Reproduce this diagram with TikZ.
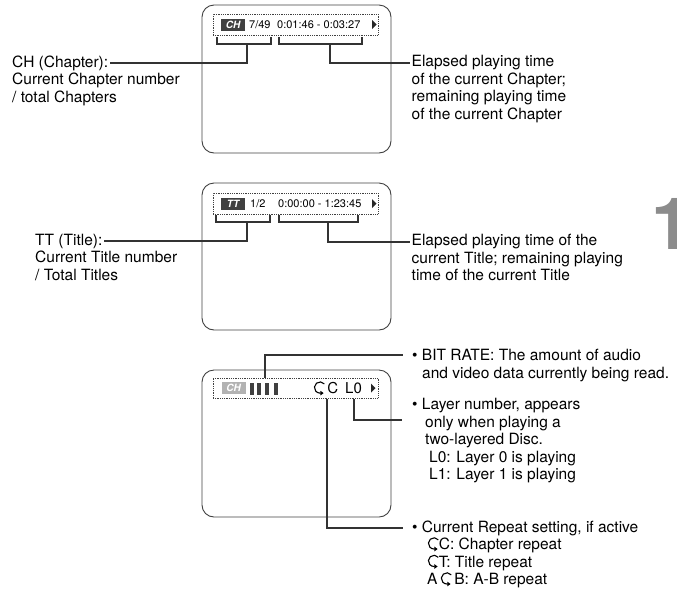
\documentclass[tikz,border=0pt]{standalone}
\usepackage{fontspec}
\setmainfont{TeX Gyre Heros}
\usetikzlibrary{arrows.meta,positioning}

% small repeat arrow used in the bar and in the labels
\newcommand{\rpt}{\tikz[baseline=0pt,x=1pt,y=1pt,line width=1.1pt]
  \draw[-{Triangle[length=3.2pt,width=4.4pt]}] (9.4,9.8) arc[start angle=40,end angle=270,radius=5.6] -- ++(3.6,0);}

\begin{document}
\begin{tikzpicture}[x=1pt,y=-1pt,
  screen/.style={draw=black!75, line width=0.9pt, rounded corners=12pt, minimum width=189pt, inner sep=0pt},
  bar/.style={draw=black!75, line width=0.8pt, densely dotted, minimum width=165pt, inner sep=0pt},
  brk/.style={draw=black!80, line width=2.2pt},
  lead/.style={draw=black!80, line width=2pt},
  chip/.style={fill=black!75, text=white, minimum width=24pt, minimum height=12pt, inner sep=0pt,
    font=\fontsize{10}{10}\selectfont\bfseries\itshape},
  stat/.style={anchor=west, inner sep=0pt, font=\fontsize{11}{11}\selectfont},
  head/.style={anchor=west, inner sep=1.5pt, font=\fontsize{15.5}{17.5}\selectfont},
  bhead/.style={anchor=west, inner xsep=9pt, inner ysep=1.5pt, font=\fontsize{15.5}{17.5}\selectfont},
  txt/.style={anchor=base west, align=left, inner sep=1.5pt, font=\fontsize{15.5}{17.5}\selectfont}]

\useasboundingbox (0,0) rectangle (677,590);

% the three screens
\node[screen, minimum height=148pt] (scr1) at (296.5,79) {};
\node[screen, minimum height=147pt] (scr2) at (296.5,256.5) {};
\node[screen, minimum height=147pt] (scr3) at (296.5,443.5) {};

\node[bar, minimum height=21pt] (bar1) at (295.5,24.5) {};
\node[bar, minimum height=21pt] (bar2) at (295.5,203.5) {};
\node[bar, minimum height=20pt] (bar3) at (295.5,388) {};

% screen 1: chapter
\node[chip] (chip1) at (233,24.5) {CH};
\node[stat] (num1) at (249,24.5) {7/49};
\node[stat] (time1) at (277,24.5) {0:01:46 - 0:03:27};
\fill[black!85] (372,20) -- (376.5,24.5) -- (372,29) -- cycle;

% screen 2: title
\node[chip] (chip2) at (233,203.5) {TT};
\node[stat] (num2) at (250,203.5) {1/2};
\node[stat] (time2) at (278,203.5) {0:00:00 - 1:23:45};
\fill[black!85] (372,199) -- (376.5,203.5) -- (372,208) -- cycle;

% screen 3: bit rate, repeat, layer
\node[chip, fill=black!30] (chip3) at (233.5,388) {CH};
\foreach \x in {250,257,265,274}
  \fill[black!75] (\x,383) rectangle ++(3.5,12);
\node[stat, font=\fontsize{15}{15}\selectfont] (rep3) at (313,388) {\rpt\,C};
\node[stat, font=\fontsize{15}{15}\selectfont] (lay3) at (345,388) {L0};
\fill[black!85] (371,383.5) -- (375.5,388) -- (371,392.5) -- cycle;

% brackets under the bars
\foreach \l/\r/\y in {217/271/44, 279/362/44, 216/270/222, 279/358/222}
  \draw[brk] (\l,\y-7) -- (\l,\y) -- (\r,\y) -- (\r,\y-7);

\coordinate (st1a) at (247,44);
\coordinate (st1b) at (330,44);
\coordinate (st2a) at (247,222);
\coordinate (st2b) at (328,222);
\coordinate (ratept) at (265,378);
\coordinate (rptpt) at (327,399);
\coordinate (laypt) at (354,399);
\coordinate (layend) at (402,420);

% labels (a body's base is its last line)
\node[head] (chhead) at (10.5,63) {CH (Chapter):};
\node[txt] (chbody) at ([yshift=-35pt]chhead.base west) {Current Chapter number\\/ total Chapters};
\node[head] (el1head) at (410,63) {Elapsed playing time};
\node[txt] (el1body) at ([yshift=-52.5pt]el1head.base west)
  {of the current Chapter;\\remaining playing time\\of the current Chapter};

\node[head] (tthead) at (33.5,241) {TT (Title):};
\node[txt] (ttbody) at ([yshift=-35pt]tthead.base west) {Current Title number\\/ Total Titles};
\node[head] (el2head) at (410,242) {Elapsed playing time of the};
\node[txt] (el2body) at ([yshift=-35pt]el2head.base west)
  {current Title; remaining playing\\time of the current Title};

\node[bhead] (ratehead) at (403,355) {• BIT RATE: The amount of audio};
\node[txt] (ratebody) at ([xshift=17.5pt,yshift=-17.5pt]ratehead.base west)
  {and video data currently being read.};
\node[bhead] (layhead) at (403,406) {• Layer number, appears};
\node[txt] (laybody) at ([xshift=20.5pt,yshift=-70pt]layhead.base west)
  {only when playing a\\two-layered Disc.\\\hspace*{4pt}L0: Layer 0 is playing\\\hspace*{4pt}L1: Layer 1 is playing};
\node[bhead] (rpthead) at (403,528) {• Current Repeat setting, if active};
\node[txt] (rptbody) at ([xshift=22.5pt,yshift=-52.5pt]rpthead.base west)
  {\rpt C: Chapter repeat\\\rpt T: Title repeat\\A\,\rpt\,B: A-B repeat};

% leaders
\draw[lead] (st1a) |- (chhead.east);
\draw[lead] (st1b) |- (el1head.west);
\draw[lead] (st2a) |- (tthead.east);
\draw[lead] (st2b) |- (el2head.west);
\draw[lead] (ratept) |- (ratehead.west);
\draw[lead] (laypt) |- (layend);
\draw[lead] (rptpt) |- (rpthead.west);

% page tab
\node[anchor=base west, inner sep=0pt, text=black!45, font=\fontsize{72}{72}\selectfont\bfseries] (tab) at (651.7,249) {1};
\end{tikzpicture}
\end{document}
